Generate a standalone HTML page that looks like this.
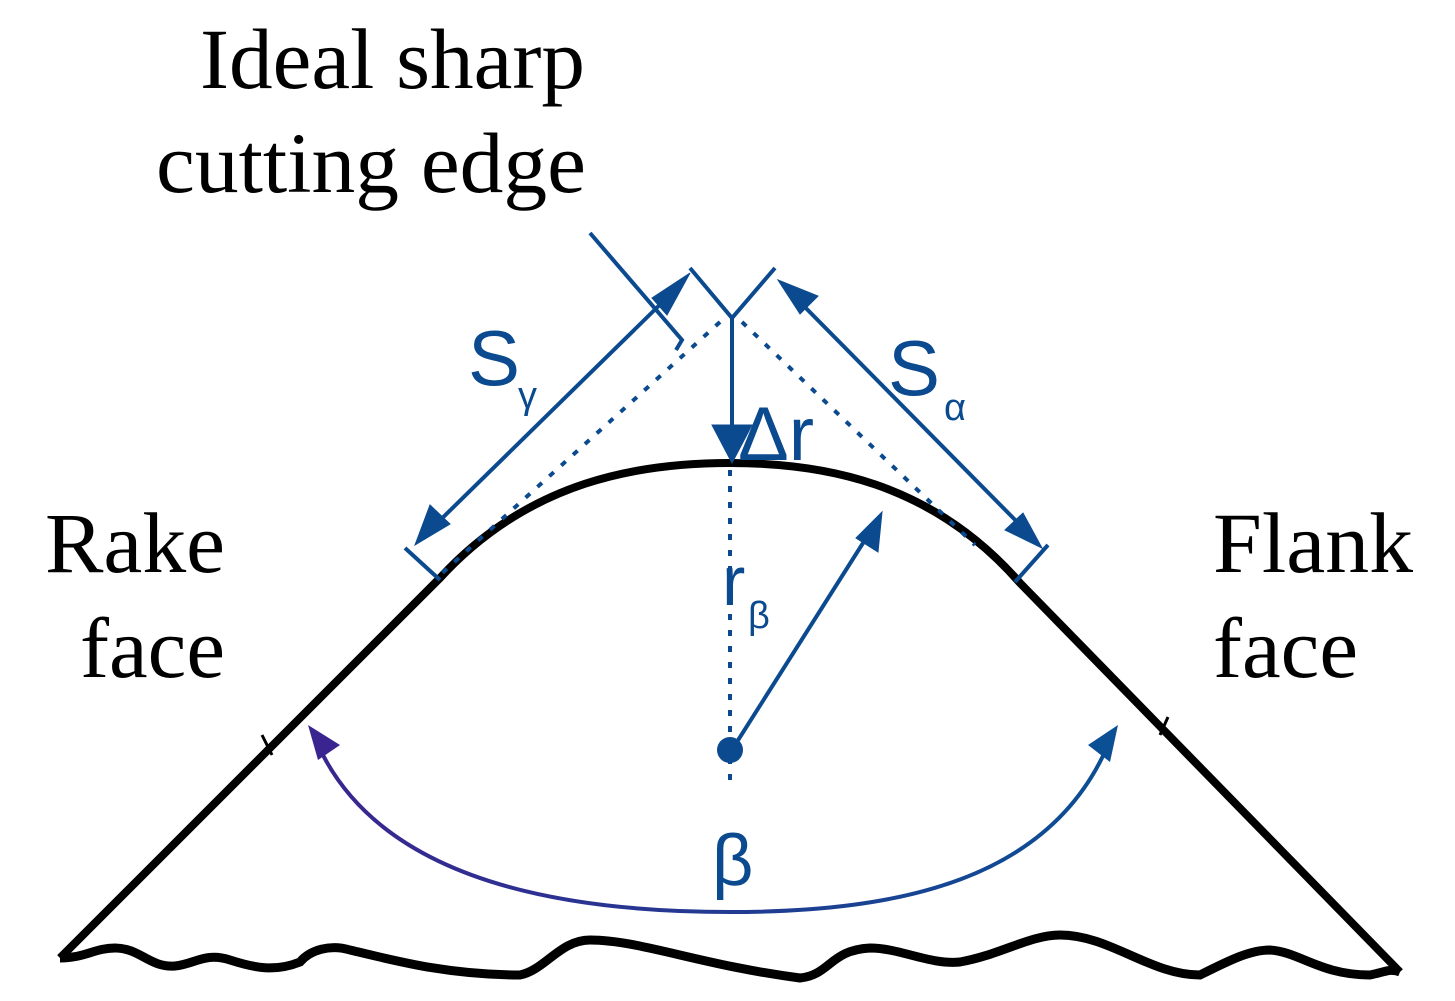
<!DOCTYPE html>
<html><head><meta charset="utf-8"><style>html,body{margin:0;padding:0;background:#fff}svg{display:block}</style></head>
<body>
<svg width="1455" height="1001" viewBox="0 0 1455 1001" xmlns="http://www.w3.org/2000/svg">
<defs>
<linearGradient id="g" x1="310" y1="0" x2="1115" y2="0" gradientUnits="userSpaceOnUse">
<stop offset="0" stop-color="#3a2590"/><stop offset="1" stop-color="#0b4f94"/></linearGradient>
</defs>
<g font-family="Liberation Serif, serif" font-size="86" fill="#000">
<text x="200" y="88" textLength="385" lengthAdjust="spacingAndGlyphs">Ideal sharp</text>
<text x="156" y="192" textLength="430" lengthAdjust="spacingAndGlyphs">cutting edge</text>
<text x="45" y="572" textLength="180" lengthAdjust="spacingAndGlyphs">Rake</text>
<text x="80" y="677" textLength="145" lengthAdjust="spacingAndGlyphs">face</text>
<text x="1213" y="572" textLength="200" lengthAdjust="spacingAndGlyphs">Flank</text>
<text x="1213" y="677" textLength="145" lengthAdjust="spacingAndGlyphs">face</text>
</g>
<path d="M60,958 L440,578 C530,480 640,463 730,463 C820,463 930,480 1020,583 L1400,972" fill="none" stroke="#000" stroke-width="8" stroke-linejoin="round"/>
<path d="M60,958 C85,958 95,948 115,948 C140,948 150,968 175,966 C195,964 205,952 230,960 C255,968 275,972 300,962 C310,950 330,944 350,950 C400,962 450,975 520,975 C545,970 560,940 590,940 C640,940 700,965 800,978 C830,975 830,950 870,948 C900,948 930,965 960,962 C1000,955 1030,935 1060,935 C1110,935 1150,975 1200,975 C1230,960 1250,950 1270,950 C1300,952 1320,975 1370,975 C1385,972 1390,968 1400,972" fill="none" stroke="#000" stroke-width="9"/>
<path d="M262,735 L272,755 M1168,717 L1160,735" stroke="#000" stroke-width="3"/>
<g stroke="#0b4a8f" fill="#0b4a8f">
<path d="M720,322 L440,575 M742,322 L975,545 M730,470 L730,780" stroke-width="4" stroke-dasharray="6,10" fill="none"/>
<path d="M690,268 L732,318 L775,268 M732,318 L732,445" stroke-width="4" fill="none"/>
<path d="M590,233 L682,340 L676,350" stroke-width="4" fill="none"/>
<path d="M425,535 L680,285" stroke-width="4" fill="none"/>
<polygon points="690,273 667,315 652,298"/>
<polygon points="415,545 430,505 450,524"/>
<path d="M405,548 L440,580" stroke-width="4"/>
<path d="M790,292 L1030,535" stroke-width="4" fill="none"/>
<polygon points="778,280 818,296 800,314"/>
<polygon points="1042,548 1005,530 1023,513"/>
<path d="M1048,545 L1015,582" stroke-width="4"/>
<polygon points="732,463 712,425 752,425"/>
<circle cx="730" cy="750" r="13" stroke="none"/>
<path d="M735,745 L870,532" stroke-width="4"/>
<polygon points="882,512 878,552 856,538"/>
</g>
<path d="M318,745 C380,880 560,912 730,912 C900,912 1050,880 1108,745" fill="none" stroke="url(#g)" stroke-width="4"/>
<polygon points="308,725 340,745 318,760" fill="#3a2590"/>
<polygon points="1118,725 1110,762 1088,745" fill="#0b4f94"/>
<g font-family="Liberation Sans, sans-serif" fill="#0b4a8f">
<text x="468" y="385" font-size="78">S</text>
<text x="518" y="408" font-size="38">γ</text>
<text x="888" y="395" font-size="78">S</text>
<text x="944" y="420" font-size="38">α</text>
<text x="738" y="460" font-size="76">Δr</text>
<text x="722" y="605" font-size="70">r</text>
<text x="748" y="628" font-size="38">β</text>
<text x="712" y="885" font-size="72">β</text>
</g>
</svg>
</body></html>
